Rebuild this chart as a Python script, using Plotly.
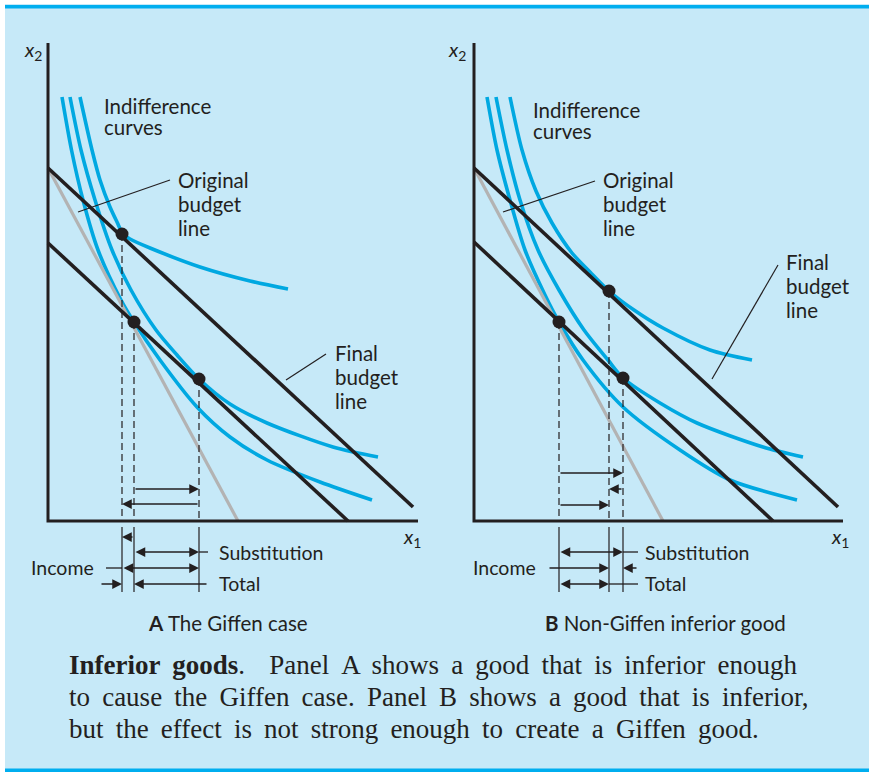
import plotly.graph_objects as go

W, H = 869, 772

# ---------------- Panel A (Giffen case) data, units of x1 / x2 ----------------
A_axis_x = [0, 0, 370]
A_axis_y = [478, 0, 0]
A_orig_x = [0, 365]; A_orig_y = [353, 14]
A_final_x = [0, 300]; A_final_y = [278, 0]
A_pivot_x = [0, 190]; A_pivot_y = [353, 0]
A_ic1_x = [14, 23.5, 35, 50, 73, 86, 112, 149, 182, 219, 272, 324]
A_ic1_y = [424, 371, 321, 271, 221, 199, 161, 114, 84, 61, 39, 21]
A_ic2_x = [22, 33, 47, 64, 83, 108, 129, 151, 182, 219, 285, 330]
A_ic2_y = [424, 371, 321, 271, 231, 191, 166, 142, 117, 98, 74, 64]
A_ic3_x = [32, 44, 52, 62, 69, 75, 82, 102, 152, 202, 240]
A_ic3_y = [424, 371, 341, 314, 299, 287, 282, 273, 254, 240, 232]
A_dots_x = [74, 86, 151]
A_dots_y = [287, 199, 142]

# ---------------- Panel B (non-Giffen inferior good) ----------------
B_axis_x = [0, 0, 369]
B_axis_y = [478, 0, 0]
B_orig_x = [0, 364]; B_orig_y = [353, 14]
B_final_x = [0, 299]; B_final_y = [279, 0]
B_pivot_x = [0, 189]; B_pivot_y = [353, 0]
B_ic1_x = [13, 23, 36, 51, 71, 85, 109, 149, 206, 256, 323]
B_ic1_y = [424, 371, 321, 271, 226, 199, 161, 114, 71, 41, 21]
B_ic2_x = [22, 33, 46, 64, 85, 110, 134, 149, 186, 223, 289, 329]
B_ic2_y = [424, 371, 321, 271, 231, 191, 161, 143, 118, 98, 74, 64]
B_ic3_x = [36, 48, 62, 78, 98, 116, 135, 160, 189, 236, 278]
B_ic3_y = [424, 371, 330, 298, 268, 249, 230, 211, 193, 171, 161]
B_dots_x = [85, 135, 149]
B_dots_y = [199, 230, 143]

# text
IC_LABEL = ["Indifference", "curves"]
ORIG_LABEL = ["Original", "budget", "line"]
FINAL_LABEL = ["Final", "budget", "line"]
ROW_LABELS = ["Substitution", "Income", "Total"]
CAPTION_A = "<b>A</b> The Giffen case"
CAPTION_B = "<b>B</b> Non-Giffen inferior good"
PARA = ["<b>Inferior goods</b>.  Panel A shows a good that is inferior enough",
        "to cause the Giffen case. Panel B shows a good that is inferior,",
        "but the effect is not strong enough to create a Giffen good."]

BG = "#c6e9f8"
BORDER = "#00aeef"
BLUE = "#00a8e1"
INK = "#231f20"
GRAY = "#b3b3b3"
SANS = "Lato"

# panel origins in pixels (layout)
OA = (48, 521)
OB = (474, 521)

fig = go.Figure()


def add_panel(xa, ya, axis_x, axis_y, orig, final, pivot, ics, dots):
    kw = dict(xaxis=xa, yaxis=ya, hoverinfo="skip", showlegend=False)
    for (xs, ys) in ics:
        fig.add_trace(go.Scatter(x=xs, y=ys, mode="lines",
                                 line=dict(color=BLUE, width=3.6, shape="spline", smoothing=0.8), **kw))
    fig.add_trace(go.Scatter(x=pivot[0], y=pivot[1], mode="lines",
                             line=dict(color=GRAY, width=3.2), **kw))
    for ln in (orig, final):
        fig.add_trace(go.Scatter(x=ln[0], y=ln[1], mode="lines",
                                 line=dict(color=INK, width=3.6), **kw))
    fig.add_trace(go.Scatter(x=axis_x, y=axis_y, mode="lines",
                             line=dict(color=INK, width=3.0), **kw))
    # dashed drop lines from each chosen bundle to the axis
    dx, dy = [], []
    for x, y in zip(dots[0], dots[1]):
        dx += [x, x, None]; dy += [y, 0, None]
    fig.add_trace(go.Scatter(x=dx, y=dy, mode="lines",
                             line=dict(color=INK, width=1.2, dash="7px,4px"), **kw))
    # solid guide lines below the axis
    gx, gy = [], []
    for x in dots[0]:
        gx += [x, x, None]; gy += [-6, -71, None]
    fig.add_trace(go.Scatter(x=gx, y=gy, mode="lines",
                             line=dict(color=INK, width=1.2), **kw))
    fig.add_trace(go.Scatter(x=dots[0], y=dots[1], mode="markers",
                             marker=dict(color=INK, size=13), **kw))


add_panel("x", "y", A_axis_x, A_axis_y, (A_orig_x, A_orig_y), (A_final_x, A_final_y),
          (A_pivot_x, A_pivot_y),
          [(A_ic1_x, A_ic1_y), (A_ic2_x, A_ic2_y), (A_ic3_x, A_ic3_y)], (A_dots_x, A_dots_y))
add_panel("x2", "y2", B_axis_x, B_axis_y, (B_orig_x, B_orig_y), (B_final_x, B_final_y),
          (B_pivot_x, B_pivot_y),
          [(B_ic1_x, B_ic1_y), (B_ic2_x, B_ic2_y), (B_ic3_x, B_ic3_y)], (B_dots_x, B_dots_y))

annotations = []


def arrow(xr, yr, head, tail, y, both=False):
    annotations.append(dict(xref=xr, yref=yr, axref=xr, ayref=yr, x=head, y=y, ax=tail, ay=y,
                            text="", showarrow=True, arrowhead=2, arrowsize=1.5, arrowwidth=1.3,
                            arrowcolor=INK, standoff=0, startstandoff=0,
                            arrowside="end+start" if both else "end", startarrowhead=2,
                            startarrowsize=1.5))


def seg(xa, ya, x0, x1, y):
    fig.add_trace(go.Scatter(x=[x0, x1], y=[y, y], mode="lines", xaxis=xa, yaxis=ya,
                             line=dict(color=INK, width=1.3), hoverinfo="skip", showlegend=False))


# Panel A effect arrows
a0, a1, a2 = A_dots_x[0], A_dots_x[1], A_dots_x[2]
arrow("x", "y", a2, a1, 32)
arrow("x", "y", a0, a2, 17)
arrow("x", "y", a0, a1, -16)
arrow("x", "y", a2, a1, -31, both=True); seg("x", "y", a2, a2 + 9, -31)
arrow("x", "y", a2, a0, -47, both=True); seg("x", "y", 58, a0, -47)
arrow("x", "y", a0, 52, -63); arrow("x", "y", a1, a2 + 9, -63)

# Panel B effect arrows
b0, b1, b2 = B_dots_x[0], B_dots_x[1], B_dots_x[2]
arrow("x2", "y2", b2, b0, 48)
arrow("x2", "y2", b1, b2, 32)
arrow("x2", "y2", b1, b0, 16)
arrow("x2", "y2", b2, b0, -31, both=True); seg("x2", "y2", b2, b2 + 15, -31)
arrow("x2", "y2", b1, 74, -47); arrow("x2", "y2", b2, b2 + 15, -47)
arrow("x2", "y2", b1, b0, -63, both=True); seg("x2", "y2", b1, b2 + 15, -63)

# leader lines
def leader(xa, ya, p, q):
    fig.add_trace(go.Scatter(x=[p[0], q[0]], y=[p[1], q[1]], mode="lines", xaxis=xa, yaxis=ya,
                             line=dict(color=INK, width=1.2), hoverinfo="skip", showlegend=False))

leader("x", "y", (122, 341), (30, 309))
leader("x", "y", (278, 167), (238, 141))
leader("x2", "y2", (121, 340), (29, 309))
leader("x2", "y2", (304, 256), (238, 142))


def px(x, y):
    return x / W, 1 - y / H


def text(t, x, y, size=20, xanchor="left", family=SANS, color=INK):
    X, Y = px(x, y)
    annotations.append(dict(xref="paper", yref="paper", x=X, y=Y, text=t, showarrow=False,
                            xanchor=xanchor, yanchor="middle",
                            font=dict(family=family, size=size, color=color)))


# axis titles
text("<i>x</i><sub>2</sub>", 22, 50)
text("<i>x</i><sub>1</sub>", 401, 537)
text("<i>x</i><sub>2</sub>", 446, 50)
text("<i>x</i><sub>1</sub>", 829, 537)

# curve / line labels (panel A)
for i, t in enumerate(IC_LABEL):
    text(t, 102, 106 + i * 21, size=20.5)
for i, t in enumerate(ORIG_LABEL):
    text(t, 176, 180 + i * 24, size=20.5)
for i, t in enumerate(FINAL_LABEL):
    text(t, 333, 353 + i * 24, size=20.5)
# panel B
for i, t in enumerate(IC_LABEL):
    text(t, 531, 110 + i * 21, size=20.5)
for i, t in enumerate(ORIG_LABEL):
    text(t, 601, 180 + i * 24, size=20.5)
for i, t in enumerate(FINAL_LABEL):
    text(t, 784, 262 + i * 24, size=20.5)

# effect row labels
text(ROW_LABELS[0], 217, 552, size=19.5)
text(ROW_LABELS[1], 96, 567, size=19.5, xanchor="right")
text(ROW_LABELS[2], 217, 583, size=19.5)
text(ROW_LABELS[0], 643, 552, size=19.5)
text(ROW_LABELS[1], 538, 567, size=19.5, xanchor="right")
text(ROW_LABELS[2], 643, 583, size=19.5)

# panel captions
text(CAPTION_A, 228, 623, size=20.5, xanchor="center")
text(CAPTION_B, 665, 623, size=20.5, xanchor="center")

# paragraph (extra thin space after each word gap to match the wide set of the original)
for i, t in enumerate(PARA):
    text(t.replace(" ", " \u2009"), 67, 665 + i * 32, size=27, family="Liberation Serif")

shapes = [
    dict(type="rect", xref="paper", yref="paper", x0=5 / W, x1=1, y0=1 - 771 / H, y1=1 - 4 / H,
         fillcolor=BG, line=dict(width=0), layer="below"),
    dict(type="rect", xref="paper", yref="paper", x0=5 / W, x1=1, y0=1 - 8.5 / H, y1=1 - 5 / H,
         fillcolor=BORDER, line=dict(width=0), layer="below"),
    dict(type="rect", xref="paper", yref="paper", x0=5 / W, x1=1, y0=0, y1=1 - 768.5 / H,
         fillcolor=BORDER, line=dict(width=0), layer="below"),
]

ax_common = dict(visible=False, showgrid=False, zeroline=False, fixedrange=True)
split = 434.5
fig.update_layout(
    width=W, height=H, margin=dict(l=0, r=0, t=0, b=0),
    paper_bgcolor="white", plot_bgcolor="rgba(0,0,0,0)",
    xaxis=dict(domain=[0, split / W], range=[-OA[0], split - OA[0]], **ax_common),
    yaxis=dict(domain=[0, 1], range=[OA[1] - H, OA[1]], **ax_common),
    xaxis2=dict(domain=[split / W, 1], range=[split - OB[0], W - OB[0]], anchor="y2", **ax_common),
    yaxis2=dict(domain=[0, 1], range=[OB[1] - H, OB[1]], anchor="x2", **ax_common),
    annotations=annotations, shapes=shapes, showlegend=False,
)

fig.write_html("out.html", config={"displayModeBar": False},
               post_script="document.body.style.margin='0';document.body.style.overflow='hidden';")
